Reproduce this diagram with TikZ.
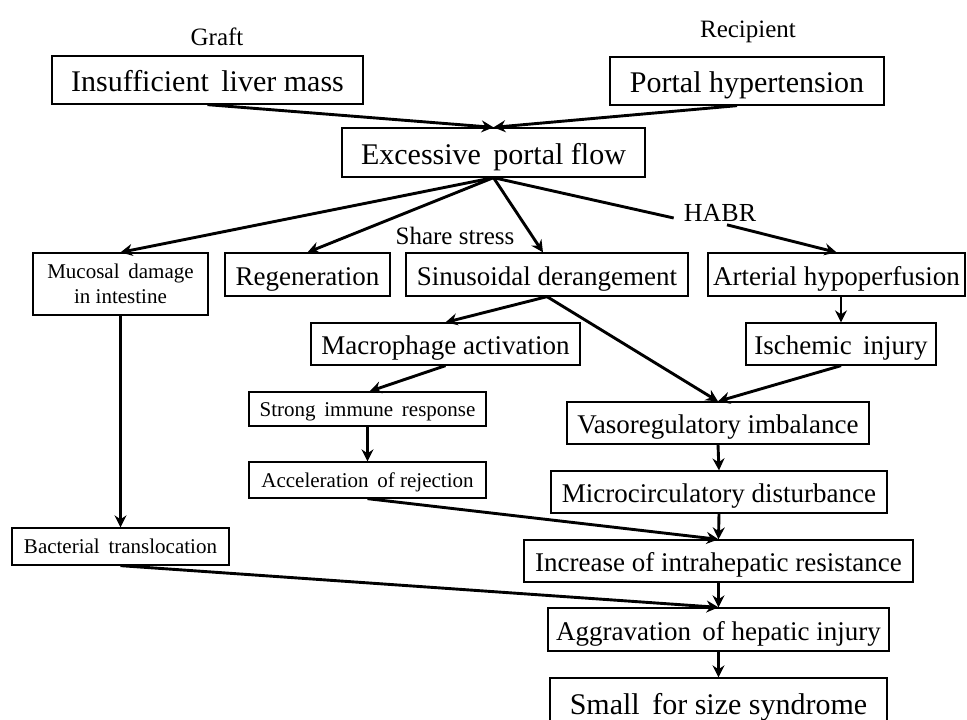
\documentclass[tikz,border=0pt]{standalone}
\usepackage{fontspec}
\setmainfont{Liberation Serif}
\usetikzlibrary{arrows.meta}
\pgfdeclarelayer{bg}
\pgfsetlayers{bg,main}
\begin{document}
\begin{tikzpicture}[x=1pt,y=-1pt,
  box/.style={draw,line width=1.3pt,fill=white,inner sep=0pt},
  bigtxt/.style={font=\fontsize{30}{34}\selectfont,text height=23pt,text depth=0pt},
  midtxt/.style={font=\fontsize{27}{30}\selectfont,text height=21pt,text depth=0pt},
  smalltxt/.style={font=\fontsize{21}{25}\selectfont,text height=14.6pt,text depth=0pt},
  twoline/.style={font=\fontsize{21}{25}\selectfont,align=center},
  lbl/.style={inner sep=1pt,font=\fontsize{25}{28}\selectfont},
  arr/.style={line width=2.9pt,-{Stealth[length=12pt,width=12pt,inset=4pt]}},
  ln/.style={line width=2.9pt}]
\clip (0,0) rectangle (967,720);
\fill[white] (0,0) rectangle (967,720);
% labels
\node[lbl] (graft) at (217,37) {Graft};
\node[lbl] (recip) at (748,32) {Recipient};
\node[lbl] (share) at (455,236) {Share stress};
\node[lbl,font=\fontsize{26}{28}\selectfont,inner sep=3pt] (habr) at (720,213) {HABR};
\coordinate (habrin) at ([xshift=-7pt,yshift=-5pt]habr.west);
% boxes
\node[box,bigtxt,minimum width=311pt,minimum height=48pt] (ins) at (207.5,80) {Insufficient\, liver mass};
\node[box,bigtxt,minimum width=274pt,minimum height=48pt] (ph) at (747,81) {Portal hypertension};
\node[box,bigtxt,minimum width=303pt,minimum height=49pt] (epf) at (493.5,152.5) {Excessive\, portal flow};
\node[box,twoline,minimum width=175pt,minimum height=62pt] (muc) at (120.5,284) {Mucosal\, damage\\in intestine};
\node[box,midtxt,minimum width=165pt,minimum height=43pt] (reg) at (307.5,274.5) {Regeneration};
\node[box,midtxt,minimum width=282pt,minimum height=43pt] (sin) at (547,274.5) {Sinusoidal derangement};
\node[box,midtxt,minimum width=257pt,minimum height=43pt] (art) at (836.5,274.5) {Arterial hypoperfusion};
\node[box,midtxt,minimum width=269pt,minimum height=42pt] (mac) at (445.5,344) {Macrophage activation};
\node[box,midtxt,minimum width=190pt,minimum height=42pt] (isc) at (841,344) {Ischemic\, injury};
\node[box,smalltxt,minimum width=237pt,minimum height=34pt] (str) at (367.5,409) {Strong\, immune\, response};
\node[box,smalltxt,minimum width=237pt,minimum height=36pt] (acc) at (367.5,480) {Acceleration\, of rejection};
\node[box,midtxt,minimum width=302pt,minimum height=42pt] (vas) at (718,423) {Vasoregulatory imbalance};
\node[box,midtxt,minimum width=336pt,minimum height=42pt] (mic) at (719,492) {Microcirculatory disturbance};
\node[box,midtxt,minimum width=389pt,minimum height=42pt] (inc) at (718.5,561) {Increase of intrahepatic resistance};
\node[box,smalltxt,minimum width=217pt,minimum height=37pt] (bac) at (120.5,546.5) {Bacterial\, translocation};
\node[box,midtxt,minimum width=341pt,minimum height=43pt] (agg) at (718.5,629.5) {Aggravation\, of hepatic injury};
\node[box,bigtxt,minimum width=337pt,minimum height=50pt] (sfs) at (718.5,703) {Small\, for size syndrome};
% connectors
\draw[arr] (ins.south) -- (epf.north);
\draw[arr] ([xshift=-10pt]ph.south) -- (epf.north);
\draw[arr] (epf.south) -- (muc.north);
\draw[arr] (epf.south) -- (reg.north);
\draw[arr] (epf.south) -- ([xshift=-4pt]sin.north);
\draw[ln] (epf.south) -- (habrin);
\draw[arr] ([xshift=7pt]habr.south) -- (art.north);
\draw[arr] (isc.north |- art.south) -- (isc.north);
\draw[arr] (sin.south) -- (mac.north);
\draw[arr] (sin.south) -- (vas.north);
\draw[arr] (isc.south) -- (vas.north);
\draw[arr] (mac.south) -- ([xshift=2pt]str.north);
\begin{pgfonlayer}{bg}
\draw[arr] (mac.south) -- (mic.north);
\end{pgfonlayer}
\draw[arr] (str.south) -- (acc.north);
\draw[arr] (vas.south) -- (mic.north);
\draw[arr] (mic.south) -- (inc.north);
\draw[arr] (acc.south) -- (inc.north);
\draw[arr] (muc.south) -- (bac.north);
\draw[arr] (inc.south) -- (agg.north);
\draw[arr] (bac.south) -- (agg.north);
\draw[arr] (agg.south) -- (sfs.north);
\end{tikzpicture}
\end{document}
